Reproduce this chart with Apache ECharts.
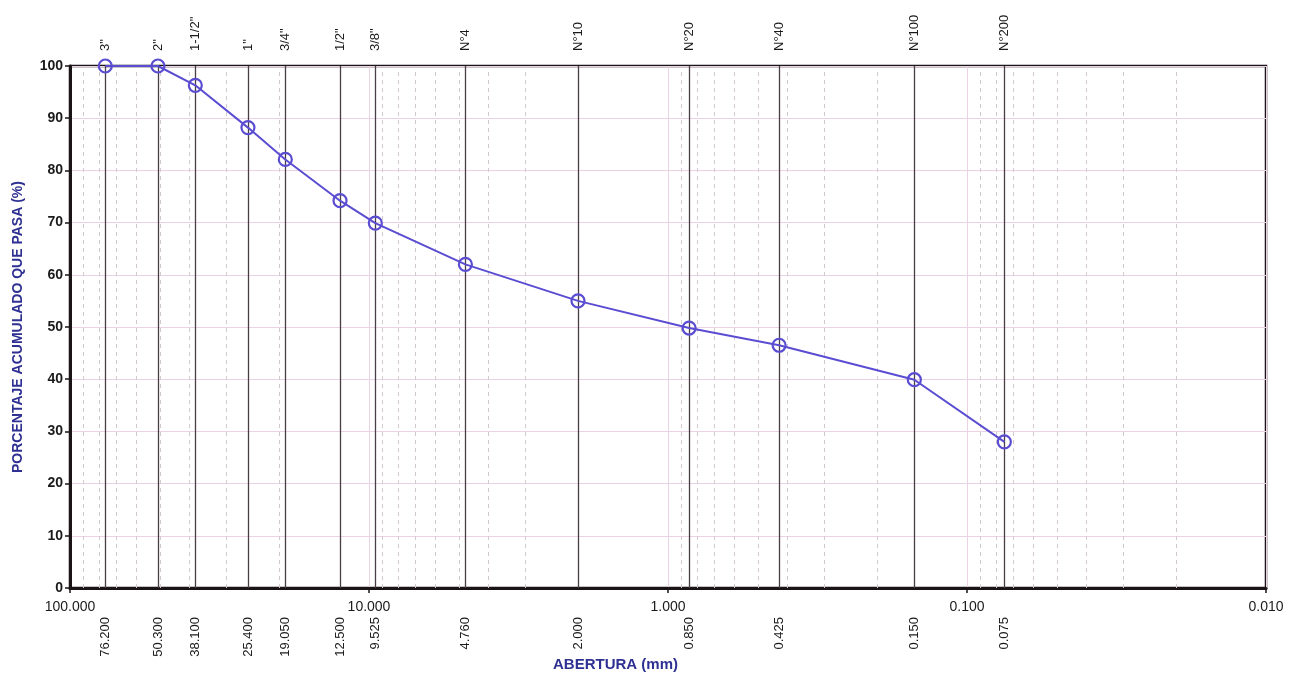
<!DOCTYPE html>
<html>
<head>
<meta charset="utf-8">
<script src="https://cdn.jsdelivr.net/npm/echarts@6/dist/echarts.min.js"></script>
<style>html,body{margin:0;padding:0;background:#fff;}#c{width:1291px;height:674px;}</style>
</head>
<body>
<div id="c"></div>
<script>
// Sieve openings (mm) and cumulative percent passing
var sieveSizes = [76.2, 50.8, 38.1, 25.4, 19.05, 12.5, 9.525, 4.76, 2.0, 0.85, 0.425, 0.15, 0.075];
var sieveNames = ['3"', '2"', '1-1/2"', '1"', '3/4"', '1/2"', '3/8"', 'N°4', 'N°10', 'N°20', 'N°40', 'N°100', 'N°200'];
var sizeLabels = ['76.200', '50.300', '38.100', '25.400', '19.050', '12.500', '9.525', '4.760', '2.000', '0.850', '0.425', '0.150', '0.075'];
var percentPassing = [100, 100, 96.3, 88.2, 82.1, 74.2, 69.9, 62.0, 55.0, 49.8, 46.5, 39.9, 28.0];
var decadeTicks = [100, 10, 1, 0.1, 0.01];
var yTicks = [0, 10, 20, 30, 40, 50, 60, 70, 80, 90, 100];

var minorGrid = [];
[10, 1, 0.1, 0.01].forEach(function (d) {
  for (var k = 2; k <= 9; k++) minorGrid.push(+(k * d).toFixed(4));
});

function nearestIndex(v) {
  var best = 0, bd = Infinity;
  for (var i = 0; i < sieveSizes.length; i++) {
    var d = Math.abs(Math.log(v) - Math.log(sieveSizes[i]));
    if (d < bd) { bd = d; best = i; }
  }
  return best;
}
function vline(v) { return [{ coord: [v, 0] }, { coord: [v, 100] }]; }

var FONT = 'Liberation Sans, Arial, sans-serif';
var chart = echarts.init(document.getElementById('c'));

var logAxisBase = { type: 'log', logBase: 10, min: 0.01, max: 100, inverse: true, gridIndex: 0 };

var option = {
  animation: false,
  backgroundColor: '#ffffff',
  grid: { left: 70, right: 25, top: 66, bottom: 86, show: true, borderColor: '#1a1416', borderWidth: 2.5, backgroundColor: 'transparent' },
  xAxis: [
    Object.assign({}, logAxisBase, {
      position: 'bottom',
      interval: 1,
      axisLine: { show: true, lineStyle: { color: '#1a1416', width: 3 } },
      axisTick: { show: true, length: 5, lineStyle: { color: '#1a1416', width: 1.5 } },
      axisLabel: {
        margin: 12, fontSize: 14, color: '#1a1a1a', fontFamily: FONT,
        formatter: function (v) { return (+v).toFixed(3); }
      },
      splitLine: { show: true, lineStyle: { color: '#ecd3e4', width: 1 } }
    }),
    Object.assign({}, logAxisBase, {
      position: 'top',
      axisLine: { show: false },
      axisTick: { show: false },
      splitLine: { show: false },
      axisLabel: {
        show: true, customValues: sieveSizes, rotate: -90, margin: 15,
        fontSize: 13, color: '#1a1a1a', fontFamily: FONT,
        formatter: function (v) { return sieveNames[nearestIndex(v)]; }
      }
    }),
    Object.assign({}, logAxisBase, {
      position: 'bottom',
      axisLine: { show: false },
      axisTick: { show: false },
      splitLine: { show: false },
      axisLabel: {
        show: true, customValues: sieveSizes, rotate: 90, margin: 29,
        fontSize: 13, color: '#1a1a1a', fontFamily: FONT,
        formatter: function (v) { return sizeLabels[nearestIndex(v)]; }
      }
    })
  ],
  yAxis: {
    type: 'value', min: 0, max: 100, interval: 10,
    name: 'PORCENTAJE ACUMULADO QUE PASA (%)',
    nameLocation: 'middle', nameGap: 45, nameRotate: 90,
    nameTextStyle: { fontSize: 14, fontWeight: 'bold', color: '#2e3192', fontFamily: FONT },
    axisLine: { show: true, lineStyle: { color: '#1a1416', width: 3 } },
    axisTick: { show: true, length: 5, lineStyle: { color: '#1a1416', width: 1.5 } },
    axisLabel: {
      margin: 7, fontSize: 14, fontWeight: 'bold', color: '#1a1a1a', fontFamily: FONT,
      customValues: yTicks
    },
    splitLine: { show: true, lineStyle: { color: '#ecd3e4', width: 1 } }
  },
  graphic: [{
    type: 'text', left: 553, top: 657,
    style: { text: 'ABERTURA (mm)', fontSize: 15, fontWeight: 'bold', fill: '#2e3192', fontFamily: FONT }
  }],
  series: [
    {
      type: 'line', data: [], xAxisIndex: 0, silent: true,
      markLine: {
        silent: true, symbol: 'none', label: { show: false }, precision: 4,
        lineStyle: { color: '#d4c8d2', width: 1, type: [4, 4] },
        data: minorGrid.map(vline)
      }
    },
    {
      type: 'line', data: [], xAxisIndex: 0, silent: true,
      markLine: {
        silent: true, symbol: 'none', label: { show: false }, precision: 4,
        lineStyle: { color: '#4a3e46', width: 1.3, type: 'solid' },
        data: sieveSizes.map(vline)
      }
    },
    {
      type: 'line', xAxisIndex: 0,
      data: sieveSizes.map(function (s, i) { return [s, percentPassing[i]]; }),
      symbol: 'circle', symbolSize: 13,
      lineStyle: { color: '#5a4dd2', width: 2 },
      itemStyle: { color: 'rgba(0,0,0,0)', borderColor: '#5a4dd2', borderWidth: 2.2 },
      z: 5
    }
  ]
};
chart.setOption(option);
</script>
</body>
</html>
